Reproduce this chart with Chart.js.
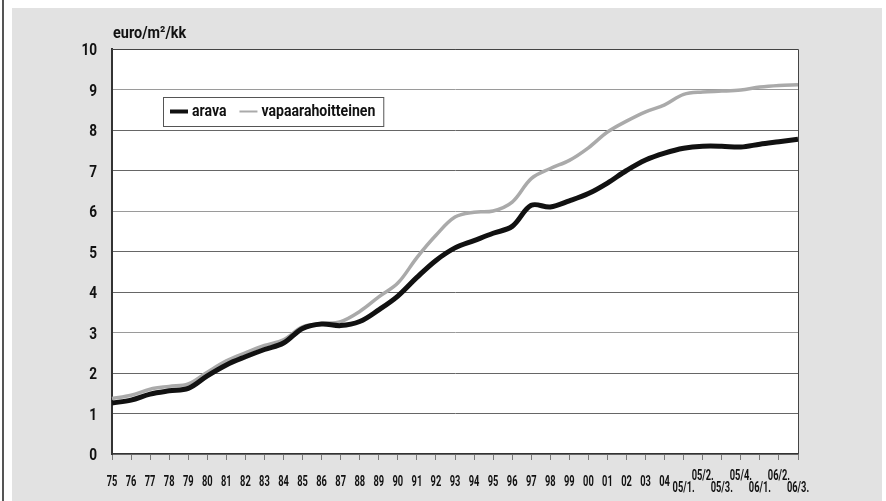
<!DOCTYPE html>
<html>
<head>
<meta charset="utf-8">
<script src="https://cdn.jsdelivr.net/npm/chart.js@4.4.1/dist/chart.umd.min.js"></script>
<style>
    body { margin: 0; background: #fff; }
    #wrap { position: relative; width: 886px; height: 501px; overflow: hidden; }
    #paper { position: absolute; left: 12px; top: 8px; width: 870px; height: 493px; background: #e2e2e2; }
    #edge { position: absolute; left: 2px; top: 0; width: 2px; height: 501px; background: #555; }
    canvas { position: absolute; left: 0; top: 0; }
</style>
</head>
<body>
<div id="wrap">
    <div id="paper"></div>
    <div id="edge"></div>
    <canvas id="rent-chart" width="886" height="501"></canvas>
</div>
<script>
var periods = ['75', '76', '77', '78', '79', '80', '81', '82', '83', '84',
    '85', '86', '87', '88', '89', '90', '91', '92', '93', '94',
    '95', '96', '97', '98', '99', '00', '01', '02', '03', '04',
    '05/1.', '05/2.', '05/3.', '05/4.', '06/1.', '06/2.', '06/3.'];

var arava = [1.26, 1.33, 1.48, 1.56, 1.62, 1.93, 2.20, 2.40, 2.58, 2.74,
    3.10, 3.21, 3.17, 3.27, 3.56, 3.90, 4.36, 4.78, 5.09, 5.27,
    5.45, 5.62, 6.14, 6.10, 6.25, 6.43, 6.69, 7.00, 7.26, 7.43,
    7.55, 7.60, 7.60, 7.58, 7.65, 7.71, 7.77];

var vapaarahoitteinen = [1.37, 1.45, 1.60, 1.67, 1.73, 2.02, 2.30, 2.50, 2.68, 2.82,
    3.14, 3.22, 3.27, 3.52, 3.88, 4.22, 4.85, 5.40, 5.85, 5.97,
    6.00, 6.22, 6.80, 7.05, 7.25, 7.56, 7.95, 8.22, 8.45, 8.62,
    8.88, 8.94, 8.96, 8.99, 9.06, 9.10, 9.12];

var yMin = 0;
var yMax = 10;
var unitTitle = 'euro/m²/kk';

var face = 'Roboto, "DejaVu Sans", sans-serif';

// bold text squeezed sideways, the original uses a condensed face
function squeezedText(ctx, text, x, y, size, squeeze, align) {
    ctx.save();
    ctx.font = 'bold ' + size + 'px ' + face;
    ctx.textAlign = align;
    ctx.textBaseline = 'middle';
    ctx.fillStyle = '#111';
    ctx.translate(x, y);
    ctx.scale(squeeze, 1);
    ctx.fillText(text, 0, 0);
    ctx.restore();
}

function squeezedWidth(ctx, text, size, squeeze) {
    ctx.save();
    ctx.font = 'bold ' + size + 'px ' + face;
    var w = ctx.measureText(text).width * squeeze;
    ctx.restore();
    return w;
}

var chartDecor = {
    id: 'chartDecor',
    beforeDraw: function (chart) {
        var ctx = chart.ctx;
        var a = chart.chartArea;
        ctx.save();
        ctx.fillStyle = '#fff';
        ctx.fillRect(a.left, a.top, a.right - a.left, a.bottom - a.top);
        ctx.restore();
    },
    afterDraw: function (chart) {
        var ctx = chart.ctx;
        var a = chart.chartArea;
        var xs = chart.scales.x;
        var ys = chart.scales.y;
        ctx.save();

        // frame top and right
        ctx.strokeStyle = '#444';
        ctx.lineWidth = 1;
        ctx.beginPath();
        ctx.moveTo(a.left, a.top + 0.5);
        ctx.lineTo(a.right + 0.5, a.top + 0.5);
        ctx.lineTo(a.right + 0.5, a.bottom);
        ctx.stroke();
        ctx.restore();

        // y tick labels
        ys.ticks.forEach(function (t, i) {
            squeezedText(ctx, String(t.value), a.left - 15, ys.getPixelForTick(i) + 2, 17, 0.8, 'right');
        });

        // x tick labels, quarters alternate lower / upper row
        var firstQ = periods.indexOf('05/1.');
        xs.ticks.forEach(function (t, i) {
            var p = periods[i];
            var px = xs.getPixelForTick(i);
            var py = a.bottom + 28;
            if (p.indexOf('/') >= 0) {
                py = ((i - firstQ) % 2 === 0) ? a.bottom + 34 : a.bottom + 22;
            }
            squeezedText(ctx, p, px, py, 15, 0.62, 'center');
        });

        // unit title
        squeezedText(ctx, unitTitle, a.left + 1, a.top - 15, 17, 0.85, 'left');

        // legend box
        var lx = a.left + 51;
        var ly = a.top + 48;
        var lh = 29;
        var x = lx + 7;
        var items = [];
        chart.data.datasets.forEach(function (ds) {
            items.push({ ds: ds, x: x });
            x += 18 + 4 + squeezedWidth(ctx, ds.label, 16, 0.88) + 13;
        });
        var lw = x - 13 + 8 - lx;
        ctx.save();
        ctx.fillStyle = '#fff';
        ctx.fillRect(lx, ly, lw, lh);
        ctx.strokeStyle = '#555';
        ctx.lineWidth = 1;
        ctx.strokeRect(lx + 0.5, ly + 0.5, lw, lh);
        items.forEach(function (it) {
            var cy = ly + lh / 2;
            ctx.strokeStyle = it.ds.borderColor;
            ctx.lineWidth = it.ds.legendWidth;
            ctx.beginPath();
            ctx.moveTo(it.x, cy);
            ctx.lineTo(it.x + 18, cy);
            ctx.stroke();
            squeezedText(ctx, it.ds.label, it.x + 22, cy, 16, 0.88, 'left');
        });
        ctx.restore();
    }
};

var ctx = document.getElementById('rent-chart');
var RentChart = new Chart(ctx, {
    type: 'line',
    data: {
        labels: periods,
        datasets: [
            {
                label: 'arava',
                data: arava,
                borderColor: '#111',
                borderWidth: 5,
                legendWidth: 4,
                pointRadius: 0,
                tension: 0.35,
                order: 1
            },
            {
                label: 'vapaarahoitteinen',
                data: vapaarahoitteinen,
                borderColor: '#aaaaaa',
                borderWidth: 3.5,
                legendWidth: 2,
                pointRadius: 0,
                tension: 0.35,
                order: 2
            }
        ]
    },
    plugins: [chartDecor],
    options: {
        responsive: false,
        animation: false,
        devicePixelRatio: 1,
        layout: {
            padding: { top: 49, right: 88, left: 0, bottom: 0 }
        },
        plugins: {
            legend: { display: false },
            title: { display: false },
            tooltip: { enabled: false }
        },
        scales: {
            x: {
                offset: false,
                afterFit: function (scale) { scale.height = 47; },
                grid: {
                    drawOnChartArea: false,
                    drawTicks: true,
                    tickLength: 6,
                    tickColor: '#777'
                },
                border: { color: '#333', width: 1.5 },
                ticks: {
                    display: false,
                    autoSkip: false,
                    maxRotation: 0
                }
            },
            y: {
                min: yMin,
                max: yMax,
                afterFit: function (scale) { scale.width = 112; },
                grid: {
                    drawTicks: false,
                    color: function (c) {
                        return (c.tick.value % 3 === 0) ? '#9a9a9a' : '#666';
                    },
                    lineWidth: 1
                },
                border: { color: '#333', width: 2 },
                ticks: {
                    display: false,
                    stepSize: 1
                }
            }
        }
    }
});
</script>
</body>
</html>
